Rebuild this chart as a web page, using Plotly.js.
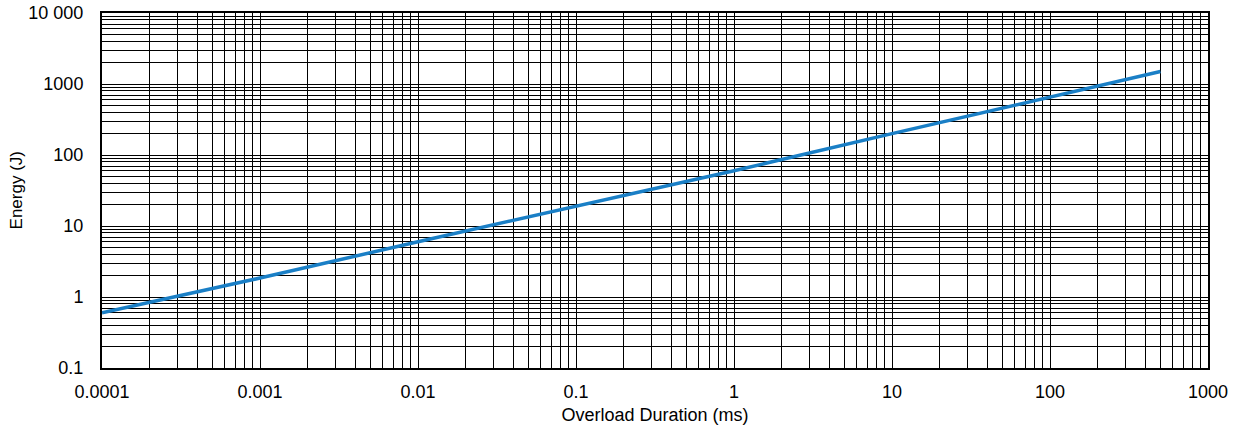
<!DOCTYPE html>
<html>
<head>
<meta charset="utf-8">
<script src="https://cdn.plot.ly/plotly-3.0.1.min.js"></script>
<style>html,body{margin:0;padding:0;background:#fff;}#chart{width:1234px;height:434px;}</style>
</head>
<body>
<div id="chart"></div>
<script>
// Data
var durationMs = [0.0001, 0.001, 0.01, 0.1, 1, 10, 100, 500];
var energyJ = [0.6, 1.85, 6, 19, 60, 200, 650, 1500];

var xDecades = [0.0001, 0.001, 0.01, 0.1, 1, 10, 100, 1000];
var xDecadeLabels = ["0.0001", "0.001", "0.01", "0.1", "1", "10", "100", "1000"];
var yDecades = [0.1, 1, 10, 100, 1000, 10000];
var yDecadeLabels = ["0.1", "1", "10", "100", "1000", "10 000"];
var xTitle = "Overload Duration (ms)";
var yTitle = "Energy (J)";

function gridTicks(decades, labels) {
  var vals = [], text = [];
  for (var i = 0; i < decades.length; i++) {
    vals.push(decades[i]); text.push(labels[i]);
    if (i < decades.length - 1) {
      for (var m = 2; m <= 9; m++) {
        vals.push(+(decades[i] * m).toPrecision(6)); text.push("");
      }
    }
  }
  return {vals: vals, text: text};
}
var xt = gridTicks(xDecades, xDecadeLabels);
var yt = gridTicks(yDecades, yDecadeLabels);

var font = {family: "Liberation Sans, Arial, sans-serif", size: 18, color: "#000"};

var trace = {
  x: durationMs, y: energyJ, type: "scatter", mode: "lines",
  line: {color: "#1a7fc6", width: 3.5}, hoverinfo: "skip"
};

var layout = {
  width: 1234, height: 434,
  margin: {l: 102, r: 26, t: 13, b: 66},
  paper_bgcolor: "#fff", plot_bgcolor: "#fff",
  showlegend: false,
  font: font,
  xaxis: {
    type: "log", range: [-4, 3],
    tickmode: "array", tickvals: xt.vals, ticktext: xt.text,
    showgrid: true, gridcolor: "#000", gridwidth: 1,
    showline: true, linecolor: "#000", linewidth: 2, mirror: true,
    ticks: "outside", ticklen: 6, tickcolor: "rgba(0,0,0,0)", zeroline: false,
    tickfont: font,
    title: {text: xTitle, font: font, standoff: 8}
  },
  yaxis: {
    type: "log", range: [-1, 4],
    tickmode: "array", tickvals: yt.vals, ticktext: yt.text,
    showgrid: true, gridcolor: "#000", gridwidth: 1,
    showline: true, linecolor: "#000", linewidth: 2, mirror: true,
    ticks: "outside", ticklen: 13, tickcolor: "rgba(0,0,0,0)", zeroline: false,
    tickfont: font
  },
  annotations: [{
    text: yTitle, textangle: -90, showarrow: false,
    xref: "paper", yref: "paper", x: -0.0769, y: 0.5,
    xanchor: "center", yanchor: "middle",
    font: {family: font.family, size: 17, color: "#000"}
  }]
};

Plotly.newPlot("chart", [trace], layout, {staticPlot: true, displayModeBar: false});
</script>
</body>
</html>
